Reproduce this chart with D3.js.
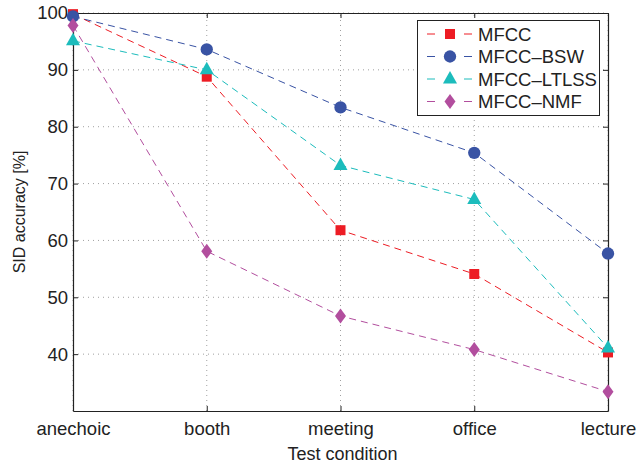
<!DOCTYPE html>
<html>
<head>
<meta charset="utf-8">
<script src="https://cdn.jsdelivr.net/npm/d3@7"></script>
<style>
	body { margin: 0; background: #fff; }
	text { font-family: "Liberation Sans", Arial, sans-serif; fill: #222; }
</style>
</head>
<body>
<div id="chart"></div>
<script>
// data
const conditions = ["anechoic", "booth", "meeting", "office", "lecture"];
const mfcc = [99.8, 88.8, 61.8, 54.1, 40.3];
const mfccBsw = [99.4, 93.6, 83.4, 75.4, 57.7];
const mfccLtlss = [95.1, 90.0, 73.2, 67.2, 41.1];
const mfccNmf = [97.8, 58.1, 46.7, 40.8, 33.4];
const yTicks = [40, 50, 60, 70, 80, 90, 100];

const series = [
	{ name: "MFCC", values: mfcc, color: "#ed1c24", shape: "square" },
	{ name: "MFCC\u2013BSW", values: mfccBsw, color: "#3953a4", shape: "circle" },
	{ name: "MFCC\u2013LTLSS", values: mfccLtlss, color: "#1cbcbc", shape: "triangle" },
	{ name: "MFCC\u2013NMF", values: mfccNmf, color: "#b24e9e", shape: "diamond" }
];

const width = 641;
const height = 465;
const margin = { top: 13, right: 33, bottom: 54, left: 73 };

const svg = d3.select("#chart")
	.append("svg")
	.attr("width", width)
	.attr("height", height);

const x = d3.scalePoint()
	.domain(conditions)
	.range([margin.left, width - margin.right]);

const y = d3.scaleLinear()
	.domain([30, 100])
	.range([height - margin.bottom, margin.top]);

const x0 = margin.left, x1 = width - margin.right;
const y0 = height - margin.bottom, y1 = margin.top;

// dotted grid
svg.append("g")
	.selectAll("line")
	.data(yTicks)
	.enter()
	.append("line")
	.attr("x1", x0).attr("x2", x1)
	.attr("y1", (d) => y(d)).attr("y2", (d) => y(d))
	.attr("stroke", "#888")
	.attr("stroke-width", 0.8)
	.attr("stroke-dasharray", "1,4");

svg.append("g")
	.selectAll("line")
	.data(conditions)
	.enter()
	.append("line")
	.attr("x1", (d) => x(d)).attr("x2", (d) => x(d))
	.attr("y1", y0).attr("y2", y1)
	.attr("stroke", "#888")
	.attr("stroke-width", 0.8)
	.attr("stroke-dasharray", "1,4");

// axes with ticks inside, matlab box style
const axLeft = svg.append("g")
	.attr("transform", `translate(${x0},0)`)
	.call(d3.axisLeft(y).tickValues(yTicks).tickSizeInner(-5).tickSizeOuter(0).tickPadding(5));
const axRight = svg.append("g")
	.attr("transform", `translate(${x1},0)`)
	.call(d3.axisRight(y).tickValues(yTicks).tickSizeInner(-5).tickSizeOuter(0).tickFormat(""));
const axBottom = svg.append("g")
	.attr("transform", `translate(0,${y0})`)
	.call(d3.axisBottom(x).tickSizeInner(-5).tickSizeOuter(0).tickPadding(11));
const axTop = svg.append("g")
	.attr("transform", `translate(0,${y1})`)
	.call(d3.axisTop(x).tickSizeInner(-5).tickSizeOuter(0).tickFormat(""));

[axLeft, axRight, axBottom, axTop].forEach((g) => {
	g.select(".domain").attr("stroke", "#222").attr("stroke-width", 1.2);
	g.selectAll(".tick line").attr("stroke", "#222");
	g.selectAll(".tick text").style("font-size", "18.5px").attr("fill", "#222");
});

// axis labels
svg.append("text")
	.attr("x", (x0 + x1) / 2 + 2)
	.attr("y", 460)
	.attr("text-anchor", "middle")
	.style("font-size", "18px")
	.text("Test condition");

svg.append("text")
	.attr("transform", `translate(25,${(y0 + y1) / 2}) rotate(-90)`)
	.attr("text-anchor", "middle")
	.style("font-size", "16px")
	.text("SID accuracy [%]");

// marker shapes
function markerPath(shape) {
	if (shape == "square") return "M-5,-5L5,-5L5,5L-5,5Z";
	if (shape == "circle") return d3.symbol(d3.symbolCircle, 120)();
	if (shape == "triangle") return "M0,-8L7,4.5L-7,4.5Z";
	return "M0,-7.5L5.5,0L0,7.5L-5.5,0Z";
}

const line = d3.line()
	.x((d, i) => x(conditions[i]))
	.y((d) => y(d));

series.forEach((s) => {
	svg.append("path")
		.datum(s.values)
		.attr("d", line)
		.attr("fill", "none")
		.attr("stroke", s.color)
		.attr("stroke-width", 1)
		.attr("stroke-dasharray", "7,5");
});

// draw markers so MFCC ends up under BSW at anechoic, as in the figure
series.forEach((s) => {
	svg.append("g")
		.selectAll("path")
		.data(s.values)
		.enter()
		.append("path")
		.attr("transform", (d, i) => `translate(${x(conditions[i])},${y(d)})`)
		.attr("d", markerPath(s.shape))
		.attr("fill", s.color);
});

// legend
const legend = svg.append("g");
legend.append("rect")
	.attr("x", 417.5).attr("y", 20.5)
	.attr("width", 182).attr("height", 95)
	.attr("fill", "#fff")
	.attr("stroke", "#222")
	.attr("stroke-width", 1);

series.forEach((s, i) => {
	const ly = 34 + i * 22.5;
	legend.append("line")
		.attr("x1", 427).attr("x2", 472)
		.attr("y1", ly).attr("y2", ly)
		.attr("stroke", s.color)
		.attr("stroke-width", 1)
		.attr("stroke-dasharray", "8,29");
	legend.append("path")
		.attr("transform", `translate(450,${ly})`)
		.attr("d", markerPath(s.shape))
		.attr("fill", s.color);
	legend.append("text")
		.attr("x", 478)
		.attr("y", ly + 6.5)
		.style("font-size", "18.5px")
		.text(s.name);
});
</script>
</body>
</html>
